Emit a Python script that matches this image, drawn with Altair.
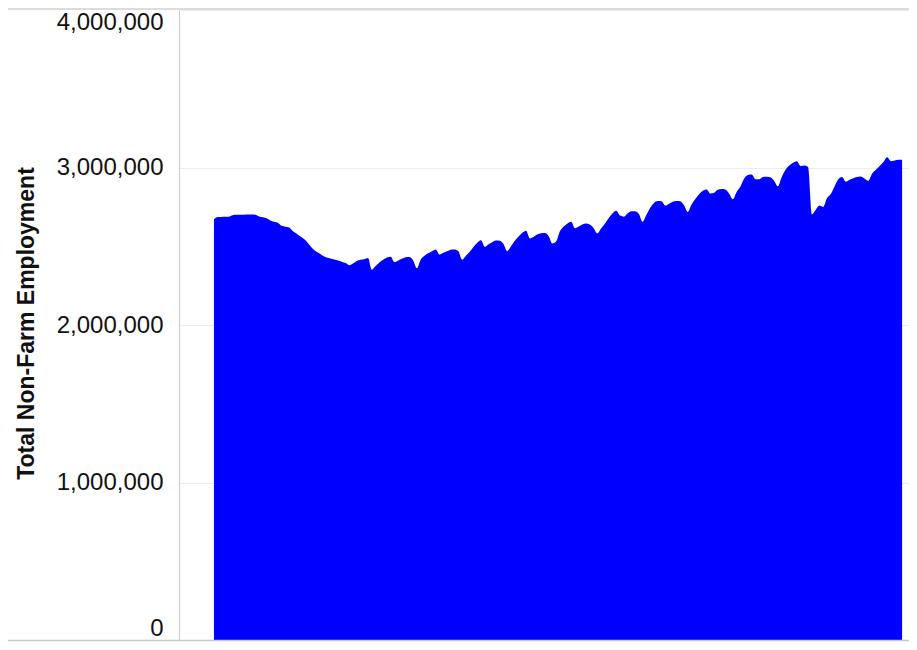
import altair as alt
import pandas as pd

# Monthly total non-farm employment (millions), Jan 2007 .. Apr 2022
y2007 = [2.671, 2.685, 2.686, 2.687, 2.688, 2.697, 2.700, 2.700, 2.700, 2.701, 2.701, 2.700]
y2008 = [2.689, 2.684, 2.677, 2.664, 2.656, 2.650, 2.630, 2.624, 2.619, 2.595, 2.580, 2.562]
y2009 = [2.544, 2.519, 2.492, 2.470, 2.455, 2.439, 2.428, 2.422, 2.416, 2.410, 2.402, 2.393]
y2010 = [2.379, 2.392, 2.407, 2.414, 2.418, 2.425, 2.351, 2.375, 2.397, 2.414, 2.428, 2.434]
y2011 = [2.400, 2.410, 2.420, 2.430, 2.432, 2.410, 2.361, 2.415, 2.440, 2.455, 2.468, 2.480]
y2012 = [2.447, 2.458, 2.468, 2.478, 2.480, 2.468, 2.415, 2.440, 2.465, 2.495, 2.522, 2.538]
y2013 = [2.496, 2.512, 2.525, 2.536, 2.535, 2.515, 2.469, 2.500, 2.535, 2.562, 2.585, 2.598]
y2014 = [2.550, 2.560, 2.574, 2.583, 2.584, 2.565, 2.518, 2.530, 2.595, 2.625, 2.645, 2.656]
y2015 = [2.615, 2.625, 2.638, 2.644, 2.638, 2.615, 2.582, 2.615, 2.645, 2.680, 2.710, 2.726]
y2016 = [2.695, 2.688, 2.708, 2.722, 2.722, 2.705, 2.656, 2.700, 2.745, 2.775, 2.788, 2.785]
y2017 = [2.758, 2.770, 2.783, 2.788, 2.785, 2.760, 2.718, 2.765, 2.800, 2.830, 2.852, 2.861]
y2018 = [2.835, 2.840, 2.858, 2.863, 2.860, 2.835, 2.799, 2.845, 2.880, 2.930, 2.952, 2.955]
y2019 = [2.925, 2.925, 2.940, 2.942, 2.938, 2.915, 2.881, 2.940, 2.985, 3.012, 3.030, 3.040]
y2020 = [3.010, 3.012, 3.003, 2.702, 2.730, 2.758, 2.750, 2.805, 2.832, 2.880, 2.925, 2.940]
y2021 = [2.910, 2.922, 2.932, 2.940, 2.943, 2.930, 2.915, 2.960, 2.985, 3.010, 3.035, 3.065]
y2022 = [3.040, 3.045, 3.050, 3.050]

values_m = (y2007 + y2008 + y2009 + y2010 + y2011 + y2012 + y2013 + y2014 +
            y2015 + y2016 + y2017 + y2018 + y2019 + y2020 + y2021 + y2022)

y_ticks = [0, 1000000, 2000000, 3000000, 4000000]
y_title = "Total Non-Farm Employment"

dates = pd.date_range("2007-01-01", periods=len(values_m), freq="MS").strftime("%Y-%m-%d")
df = pd.DataFrame({"date": dates, "employment": [round(v * 1_000_000) for v in values_m]})

W, H = 730, 630

area = alt.Chart(df).mark_area(color="#0000ff", interpolate="monotone", opacity=1).encode(
    x=alt.X(
        "date:T",
        scale=alt.Scale(domain=[alt.DateTime(year=2006, month=3, date=24, utc=True),
                                alt.DateTime(year=2022, month=5, date=27, utc=True)]),
        axis=None,
    ),
    y=alt.Y(
        "employment:Q",
        scale=alt.Scale(domain=[0, 4000000], nice=False),
        axis=alt.Axis(
            values=y_ticks,
            format=",.0f",
            ticks=False,
            labelFlush=True,
            labelPadding=16,
            labelFontSize=24,
            labelFont="Liberation Sans",
            labelColor="#111111",
            domainColor="#c8c8c8",
            gridColor="#ececec",
            title=y_title,
            titleFont="Liberation Sans",
            titleFontSize=23,
            titleFontWeight="bold",
            titleColor="#111111",
            titleAngle=270,
            titleAlign="center",
            titleBaseline="bottom",
            titleX=-141,
            titleY=313,
        ),
    ),
)

one = alt.Data(values=[{}])
top_line = alt.Chart(one).mark_rule(color="#d0d0d0", strokeWidth=1.5).encode(
    x=alt.value(-171), x2=alt.value(W), y=alt.value(-1)
)
bottom_line = alt.Chart(one).mark_rule(color="#c8c8c8", strokeWidth=1.5).encode(
    x=alt.value(-171), x2=alt.value(W), y=alt.value(H + 0.5)
)

chart = alt.layer(area, top_line, bottom_line).properties(
    width=W,
    height=H,
    padding={"left": 171, "top": 2, "right": 0, "bottom": 2},
    autosize=alt.AutoSizeParams(type="none"),
).configure_view(strokeWidth=0)

chart.save("out.html", embed_options={"renderer": "svg", "actions": False})
